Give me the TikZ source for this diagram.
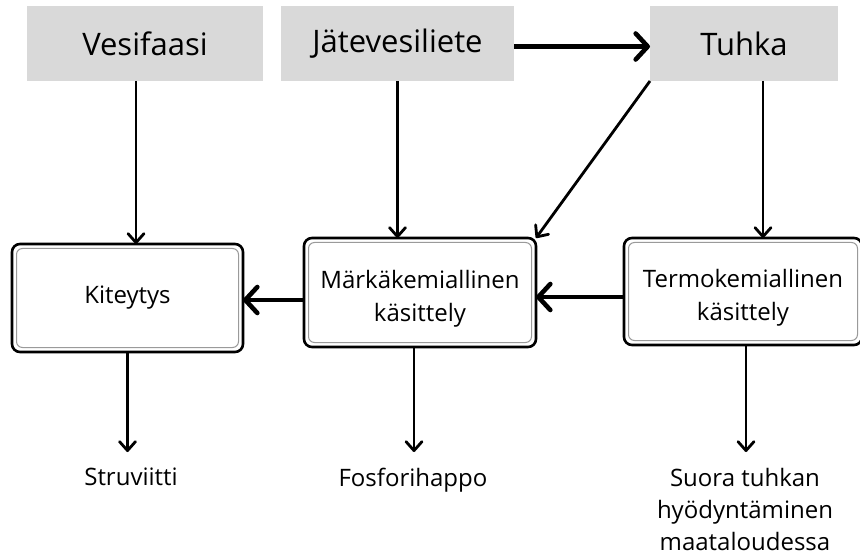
\documentclass[tikz,border=0pt]{standalone}
\usepackage{fontspec}
\setmainfont{Open Sans}
\usetikzlibrary{arrows.meta}
\definecolor{srcgray}{HTML}{D9D9D9}
\definecolor{framegray}{HTML}{9A9A9A}
% strut that lowers a two-line block inside its box
\newcommand{\lowerstrut}{\rule{0pt}{31pt}}
\begin{document}
\begin{tikzpicture}[x=1pt,y=-1pt,
  source/.style={fill=srcgray, minimum height=75pt, inner sep=0pt, outer sep=0pt,
    font=\fontsize{31}{37}\selectfont},
  process/.style={draw, line width=2.6pt, rounded corners=8pt, fill=white,
    inner sep=0pt, outer sep=0pt, align=center, font=\fontsize{24}{33}\selectfont},
  product/.style={align=center, inner xsep=0pt, inner ysep=16pt, outer sep=0pt,
    anchor=north, font=\fontsize{24}{32}\selectfont},
  innerframe/.style={draw=framegray, line width=1pt, rounded corners=6pt},
  flow/.style={line width=2.8pt, -{Straight Barb[length=9pt,width=16pt,line cap=round,line join=round]}},
  mainflow/.style={line width=4.6pt, -{Straight Barb[length=12pt,width=26pt,line cap=round,line join=round]}},
]
\useasboundingbox (0,0) rectangle (860,556);

% raw materials
\node[source, minimum width=236pt] (ves) at (145,43.5) {Vesifaasi};
\node[source, minimum width=233pt] (jat) at (397.5,43.5) {Jätevesiliete};
\node[source, minimum width=188pt] (tuh) at (744,43.5) {Tuhka};

% treatment processes
\node[process, minimum width=231pt, minimum height=108pt] (kit) at (127.5,298) {Kiteytys};
\node[process, minimum width=232pt, minimum height=109pt] (mar) at (420,292.5) {\lowerstrut Märkäkemiallinen\\käsittely};
\node[process, minimum width=238pt, minimum height=107pt] (ter) at (743,291.5) {\lowerstrut Termokemiallinen\\käsittely};
\foreach \n in {kit,mar,ter}
  \draw[innerframe] ([shift={(4.5pt,-4.5pt)}]\n.north west) rectangle ([shift={(-4.5pt,4.5pt)}]\n.south east);

% products
\node[product] (stru) at (131,452) {Struviitti};
\node[product] (fos) at (413,452) {Fosforihappo};
\node[product] (suo) at (745,452) {Suora tuhkan\\hyödyntäminen\\maataloudessa};

% flows between sources and processes
\draw[mainflow] ([yshift=-3pt]jat.east) -- ([yshift=-3pt]jat.east -| tuh.west);
\draw[flow] ([xshift=-9pt]ves.south) -- ([xshift=-9pt]ves.south |- kit.north);
\draw[flow] (jat.south) -- (jat.south |- mar.north);
\draw[flow] ([xshift=19pt]tuh.south) -- ([xshift=19pt]tuh.south |- ter.north);
\draw[flow] (tuh.south west) -- (mar.north east);
\draw[mainflow] ([yshift=-5.5pt]ter.west) -- ([yshift=-5.5pt]ter.west -| mar.east);
\draw[mainflow] ([yshift=-7.5pt]mar.west) -- ([yshift=-7.5pt]mar.west -| kit.east);

% flows to products
\draw[flow] (kit.south) -- (kit.south |- stru.north);
\draw[flow] ([xshift=-6pt]mar.south) -- ([xshift=-6pt]mar.south |- fos.north);
\draw[flow] ([xshift=3pt]ter.south) -- ([xshift=3pt]ter.south |- suo.north);
\end{tikzpicture}
\end{document}
